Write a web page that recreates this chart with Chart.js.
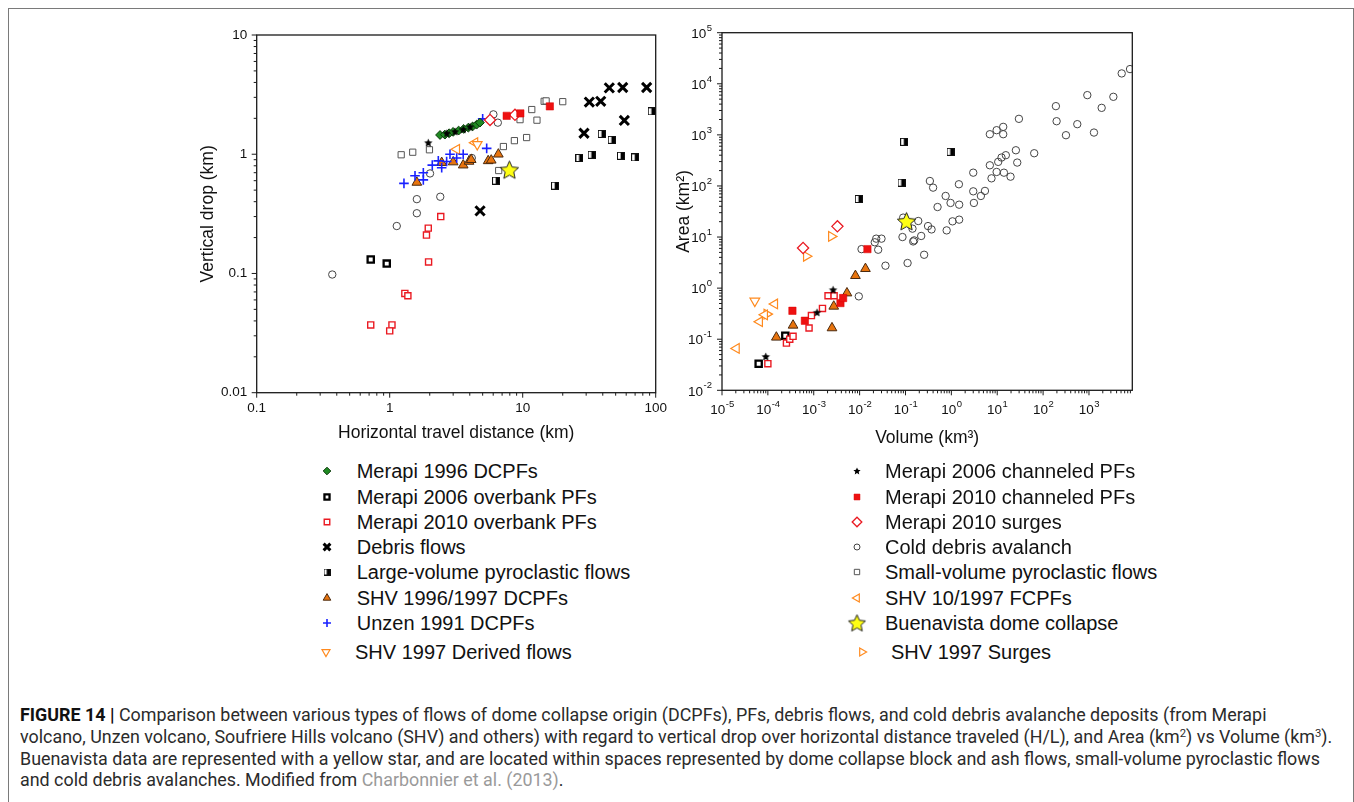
<!DOCTYPE html>
<html>
<head>
<meta charset="utf-8">
<script src="https://cdn.jsdelivr.net/npm/chart.js@4.4.1/dist/chart.umd.min.js"></script>
<style>
  body { margin: 0; width: 1354px; height: 802px; overflow: hidden; position: relative; background: #fff; font-family: "Liberation Sans", Arial, sans-serif; }
  #frame { position: absolute; left: 8px; top: 8px; width: 1346px; height: 900px; border: 1px solid #7a7a7a; box-sizing: border-box; }
  canvas { position: absolute; }
  #hlChart { left: 150px; top: 10px; }
  #avChart { left: 665px; top: 10px; }
  .legText { position: absolute; font-size: 20px; line-height: 24px; color: #111; white-space: nowrap; }
  #caption { position: absolute; left: 20px; top: 705px; font-family: Roboto, "Liberation Sans", sans-serif; font-size: 17.5px; line-height: 21.8px; color: #2b2b2b; }
  .cl { white-space: nowrap; width: max-content; transform-origin: 0 0; }
  .cl b { color: #111; }
  .cl sup { font-size: 11px; line-height: 0; vertical-align: 6px; }
  .ref { color: #9a9a9a; }
</style>
</head>
<body>
<div id="frame"></div>
<canvas id="hlChart" width="530" height="445"></canvas>
<canvas id="avChart" width="485" height="445"></canvas>
<div id="legend"></div>
<div id="caption">
  <div class="cl"><b>FIGURE 14 |</b> Comparison between various types of flows of dome collapse origin (DCPFs), PFs, debris flows, and cold debris avalanche deposits (from Merapi</div>
  <div class="cl">volcano, Unzen volcano, Soufriere Hills volcano (SHV) and others) with regard to vertical drop over horizontal distance traveled (H/L), and Area (km<sup>2</sup>) vs Volume (km<sup>3</sup>).</div>
  <div class="cl">Buenavista data are represented with a yellow star, and are located within spaces represented by dome collapse block and ash flows, small-volume pyroclastic flows</div>
  <div class="cl">and cold debris avalanches. Modified from <span class="ref">Charbonnier et al. (2013)</span>.</div>
</div>
<script>
// ---- axes ----
const distRange = [0.1, 100];
const dropRange = [0.01, 10];
const volRange = [1e-5, 8800];
const areaRange = [1e-2, 1e5];
const distTicks = [0.1, 1, 10, 100];
const dropTicks = [0.01, 0.1, 1, 10];
const volExp = [-5, -4, -3, -2, -1, 0, 1, 2, 3];
const areaExp = [-2, -1, 0, 1, 2, 3, 4, 5];

// ---- left panel: horizontal distance (km) vs vertical drop (km) ----
const starDist = [7.94];
const starDrop = [0.74];
const m96Dist = [2.39, 2.6, 2.8, 3.0, 3.3, 3.6, 3.9, 4.2, 4.5, 4.77];
const m96Drop = [1.45, 1.46, 1.5, 1.54, 1.58, 1.63, 1.67, 1.71, 1.77, 1.84];
const m06chDist = [1.95, 2.69, 3.1, 3.57, 4.02];
const m06chDrop = [1.25, 1.5, 1.55, 1.62, 1.7];
const m06obDist = [0.72, 0.95];
const m06obDrop = [0.131, 0.121];
const m10obDist = [2.42, 1.95, 1.89, 1.96, 1.30, 1.37, 0.72, 1.04, 1.0];
const m10obDrop = [0.30, 0.24, 0.21, 0.125, 0.068, 0.065, 0.037, 0.037, 0.033];
const m10chDist = [7.58, 9.6, 16.0];
const m10chDrop = [2.1, 2.2, 2.52];
const surge10Dist = [5.68, 8.75];
const surge10Drop = [1.94, 2.14];
const debrisDist = [28.9, 31.7, 38.6, 44.8, 56.5, 58.1, 85.5, 4.78];
const debrisDrop = [1.50, 2.74, 2.78, 3.60, 3.63, 1.92, 3.63, 0.335];
const largeDist = [6.3, 17.5, 26.7, 33.0, 39.3, 46.7, 54.8, 70, 93.3];
const largeDrop = [0.60, 0.545, 0.93, 0.99, 1.48, 1.32, 0.97, 0.94, 2.29];
const shvDcDist = [1.60, 2.46, 3.0, 3.57, 3.95, 4.1, 5.5, 5.8, 6.56];
const shvDcDrop = [0.58, 0.85, 0.86, 0.81, 0.87, 0.9, 0.88, 0.89, 1.0];
const unzenDist = [1.28, 1.55, 1.79, 1.79, 2.09, 2.32, 2.46, 2.68, 2.84, 3.19, 3.57, 5.36, 5.0];
const unzenDrop = [0.57, 0.66, 0.61, 0.70, 0.81, 0.88, 0.77, 0.87, 1.0, 0.93, 1.0, 1.12, 1.98];
const derivedDist = [4.55];
const derivedDrop = [1.21];
const fcpfDist = [3.19, 4.37];
const fcpfDrop = [1.10, 1.25];
const smallDist = [1.22, 1.49, 1.99, 7.16, 8.66, 10.7, 6.6, 9.55, 11.7, 12.8, 14.5, 15.0, 20.0];
const smallDrop = [0.99, 1.04, 1.09, 1.16, 1.30, 1.38, 0.73, 1.95, 2.37, 1.93, 2.78, 2.80, 2.76];
const coldDist = [6.02, 6.5, 2.01, 4.14, 1.60, 1.60, 2.40, 1.13, 0.37];
const coldDrop = [2.16, 1.84, 0.69, 0.93, 0.42, 0.32, 0.44, 0.25, 0.098];

// ---- right panel: volume (km3) vs area (km2) ----
const starVol = [0.105];
const starArea = [20.3];
const m06chVol = [9.0e-5, 1.18e-3, 2.64e-3];
const m06chArea = [0.046, 0.336, 0.93];
const m06obVol = [6.3e-5, 2.4e-4];
const m06obArea = [0.033, 0.117];
const m10obVol = [1.0e-4, 2.54e-4, 3.0e-4, 3.54e-4, 7.9e-4, 8.9e-4, 1.55e-3, 2.05e-3, 2.78e-3];
const m10obArea = [0.0332, 0.084, 0.10, 0.114, 0.166, 0.29, 0.40, 0.71, 0.71];
const m10chVol = [3.43e-4, 6.4e-4, 3.82e-3, 4.37e-3, 0.0148];
const m10chArea = [0.36, 0.23, 0.51, 0.64, 5.8];
const surge10Vol = [5.85e-4, 3.28e-3];
const surge10Area = [6.1, 16.2];
const largeVol = [0.0935, 0.96, 0.082, 0.0096];
const largeArea = [730, 465, 116, 55.6];
const shvDcVol = [1.53e-4, 3.54e-4, 2.5e-3, 2.73e-3, 5.3e-3, 8.1e-3, 0.0134];
const shvDcArea = [0.109, 0.187, 0.166, 0.44, 0.80, 1.75, 2.4];
const derivedVol = [5.2e-5];
const derivedArea = [0.56];
const fcpfVol = [1.41e-4, 8.5e-5, 6.6e-5, 2.06e-5];
const fcpfArea = [0.49, 0.30, 0.22, 0.066];
const shvSurgeVol = [2.43e-3, 6.9e-4, 9.5e-5];
const shvSurgeArea = [10.3, 4.2, 0.31];
const coldVol = [7850, 5170, 920, 3400, 1890, 190, 197, 315, 556, 1285, 29.7, 64, 6.9, 9.7, 13.5, 13.5,
  25.5, 27.3, 15.4, 12.4, 10.5, 6.9, 9.7, 14, 19.5, 7.5, 3.0, 3.0, 5.4, 4.4, 3.1, 1.46, 1.48, 0.96,
  0.75, 0.34, 0.40, 0.50, 1.48, 1.06, 0.79, 0.31, 0.37, 0.19, 0.142, 0.22, 0.155, 0.086, 0.089,
  0.023, 0.030, 0.147, 0.255, 0.111, 0.0366, 0.0214, 0.0254, 0.011, 0.0096];
const coldArea = [19400, 15950, 6000, 5560, 3380, 3650, 1850, 985, 1620, 1110, 2060, 437, 1030, 1235, 1435, 1030,
  500, 287, 400, 360, 296, 254, 188, 182, 152, 141, 182, 78.5, 80, 63.7, 46.5, 108, 43, 46.5,
  63.7, 125, 92.7, 38.7, 21.9, 20.3, 13.5, 16.4, 14.1, 20.6, 14.6, 10.5, 8.6, 10, 24,
  9.3, 9.3, 8.2, 4.5, 3.1, 2.75, 7.9, 5.65, 5.8, 0.69];

// ---- legend ----
const legendLeft = ['Merapi 1996 DCPFs', 'Merapi 2006 overbank PFs', 'Merapi 2010 overbank PFs', 'Debris flows',
  'Large-volume pyroclastic flows', 'SHV 1996/1997 DCPFs', 'Unzen 1991 DCPFs', 'SHV 1997 Derived flows'];
const legendRight = ['Merapi 2006 channeled PFs', 'Merapi 2010 channeled PFs', 'Merapi 2010 surges', 'Cold debris avalanch',
  'Small-volume pyroclastic flows', 'SHV 10/1997 FCPFs', 'Buenavista dome collapse', 'SHV 1997 Surges'];
const legendLeftKeys = ['m96', 'm06ob', 'm10ob', 'debris', 'large', 'shvDc', 'unzen', 'derived'];
const legendRightKeys = ['m06ch', 'm10ch', 'surge10', 'cold', 'small', 'fcpf', 'star', 'shvSurge'];

// custom marker images
function starImg(r, fill, stroke, lw) {
  const c = document.createElement('canvas');
  const s = Math.ceil(2 * r + lw + 2);
  c.width = c.height = s;
  const g = c.getContext('2d');
  g.beginPath();
  for (let i = 0; i < 10; i++) {
    const rr = i % 2 ? r * 0.47 : r;
    const a = -Math.PI / 2 + i * Math.PI / 5;
    const px = s / 2 + rr * Math.cos(a), py = s / 2 + rr * Math.sin(a) + r * 0.08;
    if (i) g.lineTo(px, py); else g.moveTo(px, py);
  }
  g.closePath();
  g.fillStyle = fill;
  g.fill();
  if (lw) { g.lineWidth = lw; g.strokeStyle = stroke; g.stroke(); }
  return c;
}
function halfSquare(s) {
  const c = document.createElement('canvas');
  c.width = c.height = s + 1;
  const g = c.getContext('2d');
  g.fillStyle = '#fff';
  g.fillRect(0.5, 0.5, s, s);
  g.fillStyle = '#000';
  g.fillRect(0.5 + s * 0.45, 0.5, s * 0.55, s);
  g.strokeStyle = '#111';
  g.lineWidth = 1;
  g.strokeRect(0.5, 0.5, s, s);
  return c;
}

const orange = '#ff8a1e';
const yellow = '#ffff14';
const sty = {
  star:    { pointStyle: starImg(9.6, yellow, '#222', 1), radius: 9, leg: starImg(9, yellow, '#222', 1) },
  m96:     { pointStyle: 'rectRot', radius: 4.4, bg: '#1f8a22', border: '#0b3a0b', bw: 1, lr: 3.8 },
  m06ch:   { pointStyle: starImg(4.4, '#000', '#000', 0), radius: 4, leg: starImg(3.8, '#000', '#000', 0) },
  m06ob:   { pointStyle: 'rect', radius: 4.4, bg: 'rgba(255,255,255,0)', border: '#000', bw: 2.3, lr: 3.6 },
  m10ob:   { pointStyle: 'rect', radius: 4.3, bg: '#fff', border: '#ea1a22', bw: 1.4, lr: 3.9 },
  m10ch:   { pointStyle: 'rect', radius: 5.2, bg: '#ee1111', border: '#d00', bw: 0.5, lr: 4.2 },
  surge10: { pointStyle: 'rectRot', radius: 5.6, bg: '#fff', border: '#ea1a22', bw: 1.3, lr: 4.8 },
  debris:  { pointStyle: 'crossRot', radius: 6.5, border: '#000', bw: 3, lr: 4.8 },
  large:   { pointStyle: halfSquare(7), radius: 4, leg: halfSquare(6) },
  shvDc:   { pointStyle: 'triangle', radius: 5.6, bg: '#e8740e', border: '#4a2a10', bw: 1, lr: 4.4 },
  unzen:   { pointStyle: 'cross', radius: 4.8, border: '#1a22ff', bw: 1.6, lr: 4 },
  derived: { pointStyle: 'triangle', rotation: 180, radius: 5.6, bg: '#fff', border: orange, bw: 1.2, lr: 4.6 },
  fcpf:    { pointStyle: 'triangle', rotation: -90, radius: 5.6, bg: '#fff', border: orange, bw: 1.2, lr: 4.6 },
  shvSurge:{ pointStyle: 'triangle', rotation: 90, radius: 5.6, bg: '#fff', border: orange, bw: 1.2, lr: 4.6 },
  small:   { pointStyle: 'rect', radius: 4.4, bg: '#fff', border: '#555', bw: 1, lr: 3.8 },
  cold:    { pointStyle: 'circle', radius: 3.7, bg: 'rgba(255,255,255,0)', border: '#444', bw: 1, lr: 3 }
};

function series(key, xs, ys) {
  const s = sty[key];
  return {
    label: key,
    data: xs.map((x, i) => ({ x: x, y: ys[i] })),
    pointStyle: s.pointStyle,
    pointRadius: s.radius,
    pointHoverRadius: s.radius,
    pointRotation: s.rotation || 0,
    pointBackgroundColor: s.bg || 'rgba(0,0,0,0)',
    pointBorderColor: s.border || '#000',
    pointBorderWidth: s.bw || 0,
    showLine: false
  };
}

function logTicks(scale) {
  const out = [];
  const lo = Math.floor(Math.log10(scale.min)), hi = Math.ceil(Math.log10(scale.max));
  for (let e = lo; e <= hi; e++) {
    for (let m = 1; m < 10; m++) {
      const v = m * Math.pow(10, e);
      if (v >= scale.min * 0.999 && v <= scale.max * 1.001) out.push({ v: v, major: m === 1 });
    }
  }
  return out;
}

// frame, tick marks, tick labels and axis titles
const framePlugin = {
  id: 'frame',
  afterDraw(chart, args, o) {
    const { ctx, chartArea: a } = chart;
    const xs = chart.scales.x, ys = chart.scales.y;
    ctx.save();
    ctx.strokeStyle = '#1a1a1a';
    ctx.lineWidth = 1.3;
    ctx.strokeRect(a.left, a.top, a.right - a.left, a.bottom - a.top);
    ctx.lineWidth = 1;
    ctx.beginPath();
    logTicks(xs).forEach(t => {
      const p = xs.getPixelForValue(t.v);
      ctx.moveTo(p, a.bottom);
      ctx.lineTo(p, a.bottom + (t.major ? 5 : 3));
    });
    logTicks(ys).forEach(t => {
      const p = ys.getPixelForValue(t.v);
      ctx.moveTo(a.left, p);
      ctx.lineTo(a.left - (t.major ? 5 : 3), p);
    });
    ctx.stroke();

    ctx.fillStyle = '#111';
    const big = '13.5px "Liberation Sans", Arial, sans-serif';
    const small = '9.5px "Liberation Sans", Arial, sans-serif';
    ctx.textBaseline = 'middle';
    if (!o.sup) {
      ctx.font = big;
      ctx.textAlign = 'center';
      o.xVals.forEach(v => ctx.fillText(String(v), xs.getPixelForValue(v), a.bottom + 15.6));
      ctx.textAlign = 'right';
      o.yVals.forEach(v => ctx.fillText(String(v), a.left - 9.5, ys.getPixelForValue(v)));
    } else {
      ctx.textAlign = 'left';
      o.xExp.forEach(e => {
        const p = xs.getPixelForValue(Math.pow(10, e));
        ctx.font = big; const w1 = ctx.measureText('10').width;
        ctx.font = small; const w2 = ctx.measureText(String(e)).width;
        const x0 = p - (w1 + w2) / 2;
        ctx.font = big; ctx.fillText('10', x0, a.bottom + 19.7);
        ctx.font = small; ctx.fillText(String(e), x0 + w1 + 0.5, a.bottom + 14);
      });
      o.yExp.forEach(e => {
        const p = ys.getPixelForValue(Math.pow(10, e));
        ctx.font = small; const w2 = ctx.measureText(String(e)).width;
        ctx.font = big; const w1 = ctx.measureText('10').width;
        const xr = a.left - 10;
        ctx.fillText('10', xr - w2 - w1 - 0.5, p + 1.5);
        ctx.font = small; ctx.fillText(String(e), xr - w2, p - 4.5);
      });
    }

    ctx.font = '17.5px "Liberation Sans", Arial, sans-serif';
    ctx.textAlign = 'center';
    ctx.fillText(o.xTitle, (a.left + a.right) / 2, a.bottom + o.xTitleOff);
    ctx.translate(a.left - o.yTitleOff, (a.top + a.bottom) / 2);
    ctx.rotate(-Math.PI / 2);
    ctx.fillText(o.yTitle, 0, 0);
    ctx.restore();
  }
};

function baseOptions(xr, yr, pad, frameOpts) {
  return {
    responsive: false,
    animation: false,
    events: [],
    layout: { padding: pad },
    scales: {
      x: { type: 'logarithmic', min: xr[0], max: xr[1], display: false },
      y: { type: 'logarithmic', min: yr[0], max: yr[1], display: false }
    },
    plugins: { legend: { display: false }, tooltip: { enabled: false }, frame: frameOpts }
  };
}

new Chart(document.getElementById('hlChart'), {
  type: 'scatter',
  data: {
    datasets: [
      series('star', starDist, starDrop),
      series('m06ch', m06chDist, m06chDrop),
      series('m96', m96Dist, m96Drop),
      series('m10ch', m10chDist, m10chDrop),
      series('surge10', surge10Dist, surge10Drop),
      series('unzen', unzenDist, unzenDrop),
      series('shvDc', shvDcDist, shvDcDrop),
      series('derived', derivedDist, derivedDrop),
      series('fcpf', fcpfDist, fcpfDrop),
      series('m06ob', m06obDist, m06obDrop),
      series('m10ob', m10obDist, m10obDrop),
      series('debris', debrisDist, debrisDrop),
      series('large', largeDist, largeDrop),
      series('small', smallDist, smallDrop),
      series('cold', coldDist, coldDrop)
    ]
  },
  options: baseOptions(distRange, dropRange, { left: 106.7, top: 25, right: 24.3, bottom: 62.3 }, {
    sup: false, xVals: distTicks, yVals: dropTicks,
    xTitle: 'Horizontal travel distance (km)', xTitleOff: 40.6,
    yTitle: 'Vertical drop (km)', yTitleOff: 48.2
  }),
  plugins: [framePlugin]
});

new Chart(document.getElementById('avChart'), {
  type: 'scatter',
  data: {
    datasets: [
      series('star', starVol, starArea),
      series('m06ch', m06chVol, m06chArea),
      series('m10ch', m10chVol, m10chArea),
      series('m10ob', m10obVol, m10obArea),
      series('m06ob', m06obVol, m06obArea),
      series('shvDc', shvDcVol, shvDcArea),
      series('surge10', surge10Vol, surge10Area),
      series('derived', derivedVol, derivedArea),
      series('fcpf', fcpfVol, fcpfArea),
      series('shvSurge', shvSurgeVol, shvSurgeArea),
      series('large', largeVol, largeArea),
      series('cold', coldVol, coldArea)
    ]
  },
  options: baseOptions(volRange, areaRange, { left: 57, top: 22.7, right: 17.7, bottom: 64.7 }, {
    sup: true, xExp: volExp, yExp: areaExp,
    xTitle: 'Volume (km³)', xTitleOff: 48,
    yTitle: 'Area (km²)', yTitleOff: 38
  }),
  plugins: [framePlugin]
});

// legend rows: text in HTML, symbols drawn with Chart.js point helper
const legRows = [471, 496.7, 521.7, 546.7, 572.3, 597.7, 623.3, 651.7];
function legendColumn(labels, keys, markX, textX, lastMarkX, lastTextX) {
  const box = document.getElementById('legend');
  labels.forEach((txt, i) => {
    const last = i === labels.length - 1;
    const y = legRows[i];
    const t = document.createElement('div');
    t.className = 'legText';
    t.textContent = txt;
    t.style.left = (last ? lastTextX : textX) + 'px';
    t.style.top = (y - 12) + 'px';
    box.appendChild(t);
    const c = document.createElement('canvas');
    c.width = c.height = 24;
    c.style.left = ((last ? lastMarkX : markX) - 12) + 'px';
    c.style.top = (y - 12) + 'px';
    box.appendChild(c);
    const s = sty[keys[i]];
    const g = c.getContext('2d');
    g.fillStyle = s.bg || 'rgba(0,0,0,0)';
    g.strokeStyle = s.border || '#000';
    g.lineWidth = s.bw || 0;
    const style = s.leg || s.pointStyle;
    Chart.helpers.drawPoint(g, { pointStyle: style, rotation: s.rotation || 0, radius: s.lr || 4, borderWidth: s.bw || 0 }, 12, 12);
  });
}
legendColumn(legendLeft, legendLeftKeys, 326.7, 356.7, 326, 355);
legendColumn(legendRight, legendRightKeys, 856.7, 885, 861.7, 891);

// caption: fit line width to the original figure text block
const capLines = document.querySelectorAll('.cl');
const k = 1300 / capLines[2].getBoundingClientRect().width;
capLines.forEach(l => { l.style.transform = 'scaleX(' + k + ')'; });
</script>
</body>
</html>
